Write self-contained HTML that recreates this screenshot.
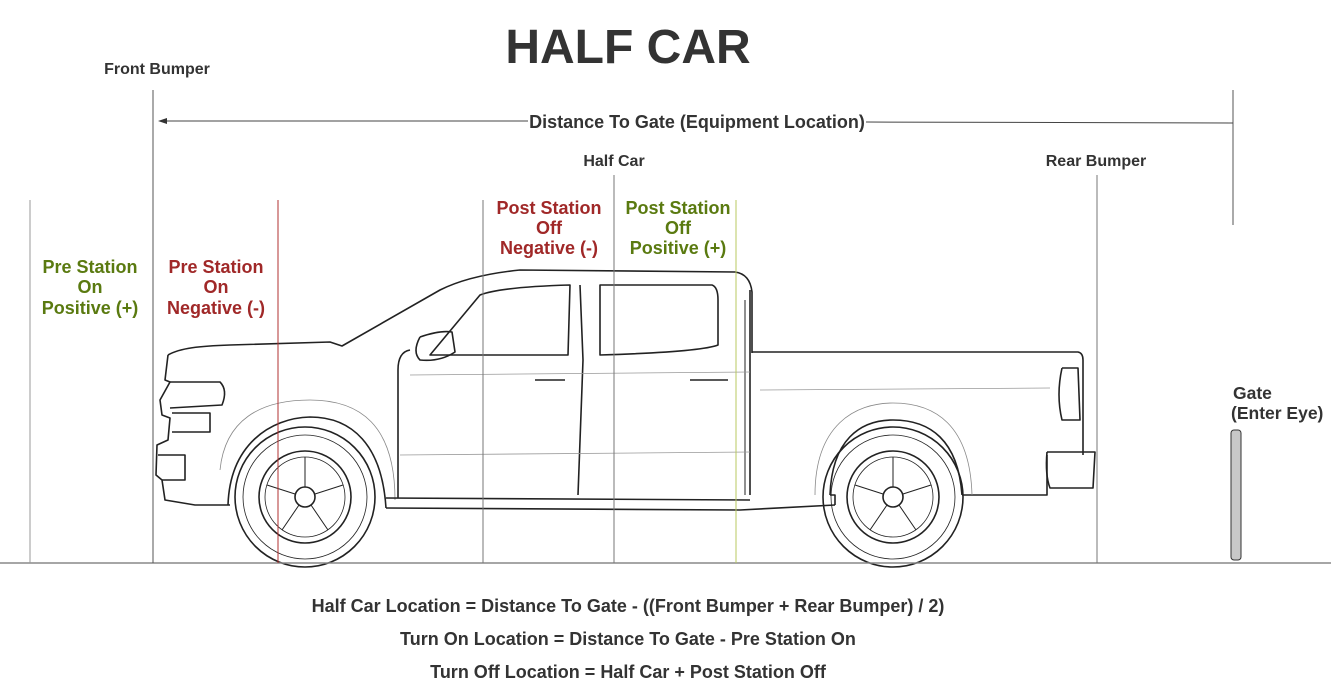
<!DOCTYPE html>
<html><head><meta charset="utf-8"><style>
html,body{margin:0;padding:0;background:#fff;}
svg{display:block;font-family:"Liberation Sans",Arial,sans-serif;font-weight:bold;}
</style></head><body>
<svg width="1331" height="683" viewBox="0 0 1331 683" xmlns="http://www.w3.org/2000/svg">
<rect width="1331" height="683" fill="#fff"/>
<g fill="none" stroke="#222" stroke-width="1.6" stroke-linejoin="round">
  <path d="M168 355 C180 348 200 346 230 345 L330 342 L342 346 L440 290 Q470 275 520 270 L735 272 Q750 274 752 292 L752 353"/>
  <path d="M752 352 L1078 352 Q1083 353 1083 360 L1083 455"/>
  <path d="M1047 452 L1095 452 L1093 488 L1050 488 Q1045 475 1047 452"/>
  <path d="M1047 455 L1047 495 L968 495"/>
  <path d="M168 355 L165 380 L170 382 L160 400 L162 415 L170 418 L168 440 L157 445 L156 475 L162 480 L165 500 L195 505 L230 505"/>
  <path d="M170 382 L220 382 Q228 390 222 405 L170 408"/>
  <path d="M172 413 L210 413 L210 432 L172 432"/>
  <path d="M158 455 L185 455 L185 480 L162 480"/>
  <path d="M228 505 C230 445 270 418 310 417 C352 417 382 445 386 508"/>
  <path d="M220 470 C225 420 260 400 310 400 C360 400 395 425 395 500" stroke-width="0.8" stroke="#888"/>
  <path d="M386 508 L740 510 L835 505"/>
  <path d="M386 498 L750 500"/>
  <path d="M410 350 Q398 352 398 370 L398 498"/>
  <path d="M580 285 L583 360 L578 495"/>
  <path d="M750 290 L750 495"/>
  <path d="M745 300 L745 495" stroke-width="1"/>
  <path d="M430 355 L480 295 Q500 287 570 285 L568 355 Z"/>
  <path d="M600 285 L712 285 Q718 287 718 300 L718 345 Q700 352 600 355 Z"/>
  <path d="M420 337 Q440 330 452 332 L455 352 Q440 362 420 360 Q412 352 420 337"/>
  <path d="M535 380 L565 380 M690 380 L728 380"/>
  <path d="M410 375 L750 372" stroke="#999" stroke-width="0.8"/>
  <path d="M400 455 L750 452" stroke="#999" stroke-width="0.8"/>
  <path d="M760 390 L1050 388" stroke="#999" stroke-width="0.8"/>
  <path d="M830 495 C832 440 860 420 893 420 C930 420 958 440 962 495"/>
  <path d="M815 495 C815 425 855 403 893 403 C935 403 970 425 972 495" stroke="#888" stroke-width="0.8"/>
  <path d="M835 505 L835 495 L830 495 M962 495 L968 495"/>
  <path d="M1062 368 L1078 368 L1080 420 L1062 420 Q1056 395 1062 368"/>
  <circle cx="305" cy="497" r="70"/>
  <circle cx="305" cy="497" r="62" stroke-width="0.8"/>
  <circle cx="305" cy="497" r="46"/>
  <circle cx="305" cy="497" r="40" stroke-width="0.8"/>
  <circle cx="305" cy="497" r="10"/>
  <circle cx="893" cy="497" r="70"/>
  <circle cx="893" cy="497" r="62" stroke-width="0.8"/>
  <circle cx="893" cy="497" r="46"/>
  <circle cx="893" cy="497" r="40" stroke-width="0.8"/>
  <circle cx="893" cy="497" r="10"/>
  <g stroke-width="1">
    <path d="M305 487 L305 457 M315 494 L343 485 M311 505 L328 530 M299 505 L282 530 M295 494 L267 485"/>
    <path d="M893 487 L893 457 M903 494 L931 485 M899 505 L916 530 M887 505 L870 530 M883 494 L855 485"/>
  </g>
</g>
<line x1="0" y1="563" x2="1331" y2="563" stroke="#888" stroke-width="1.5"/>
<g stroke-width="1">
  <line x1="30" y1="200" x2="30" y2="563" stroke="#999"/>
  <line x1="153" y1="90" x2="153" y2="563" stroke="#555"/>
  <line x1="278" y1="200" x2="278" y2="563" stroke="#b03030"/>
  <line x1="483" y1="200" x2="483" y2="563" stroke="#777"/>
  <line x1="614" y1="175" x2="614" y2="563" stroke="#777"/>
  <line x1="736" y1="200" x2="736" y2="563" stroke="#b8c860"/>
  <line x1="1097" y1="175" x2="1097" y2="563" stroke="#777"/>
  <line x1="1233" y1="90" x2="1233" y2="225" stroke="#555"/>
</g>
<line x1="164" y1="121" x2="528" y2="121" stroke="#444" stroke-width="1"/>
<line x1="866" y1="122" x2="1233" y2="123" stroke="#444" stroke-width="1"/>
<path d="M158 121 L167 118 L167 124 Z" fill="#333"/>
<rect x="1231" y="430" width="10" height="130" rx="3" fill="#c8c8c8" stroke="#333" stroke-width="1"/>
<text x="628" y="63" font-size="48" text-anchor="middle" fill="#333">HALF CAR</text>
<text x="157" y="74" font-size="16" text-anchor="middle" fill="#333">Front Bumper</text>
<text x="697" y="128" font-size="18" text-anchor="middle" fill="#333">Distance To Gate (Equipment Location)</text>
<text x="614" y="166" font-size="16" text-anchor="middle" fill="#333">Half Car</text>
<text x="1096" y="166" font-size="16" text-anchor="middle" fill="#333">Rear Bumper</text>
<g font-size="18" text-anchor="middle">
  <g fill="#5a7a10"><text x="90" y="273">Pre Station</text><text x="90" y="293">On</text><text x="90" y="314">Positive (+)</text></g>
  <g fill="#a02828"><text x="216" y="273">Pre Station</text><text x="216" y="293">On</text><text x="216" y="314">Negative (-)</text></g>
  <g fill="#a02828"><text x="549" y="214">Post Station</text><text x="549" y="234">Off</text><text x="549" y="254">Negative (-)</text></g>
  <g fill="#5a7a10"><text x="678" y="214">Post Station</text><text x="678" y="234">Off</text><text x="678" y="254">Positive (+)</text></g>
</g>
<text x="1233" y="399" font-size="17.5" fill="#333">Gate</text>
<text x="1231" y="419" font-size="17.5" fill="#333">(Enter Eye)</text>
<g font-size="18" text-anchor="middle" fill="#333">
  <text x="628" y="612">Half Car Location = Distance To Gate - ((Front Bumper + Rear Bumper) / 2)</text>
  <text x="628" y="645">Turn On Location = Distance To Gate - Pre Station On</text>
  <text x="628" y="678">Turn Off Location = Half Car + Post Station Off</text>
</g>
</svg>
</body></html>
